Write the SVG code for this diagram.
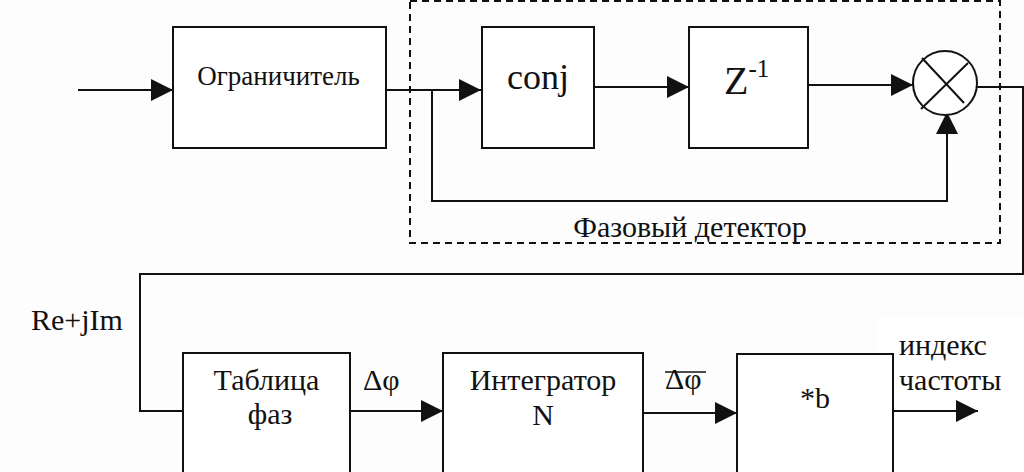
<svg xmlns="http://www.w3.org/2000/svg" width="1024" height="472" viewBox="0 0 1024 472">
<style>
.box{fill:#fff;stroke:#111;stroke-width:2}
.ln{fill:none;stroke:#111;stroke-width:2}
.dash{fill:none;stroke:#111;stroke-width:2;stroke-dasharray:7 5}
text{font-family:'Liberation Serif','DejaVu Serif',serif;font-size:30px;fill:#111}
.c{text-anchor:middle}
</style>
<defs>
<marker id="ar" markerUnits="userSpaceOnUse" markerWidth="22" markerHeight="22" refX="22" refY="11" orient="auto">
<path d="M0,0 L22,11 L0,22 Z" fill="#111"/>
</marker>
</defs>
<rect width="1024" height="472" fill="#fdfdfd"/>
<rect x="877" y="318" width="147" height="154" fill="#fff"/>

<g id="phase-detector-frame">
<rect x="410" y="1" width="590" height="242" class="dash"/>
<text x="690" y="237" class="c">Фазовый детектор</text>
</g>

<g id="connectors">
<line x1="78" y1="90" x2="173" y2="90" class="ln" marker-end="url(#ar)"/>
<line x1="386" y1="90" x2="481" y2="90" class="ln" marker-end="url(#ar)"/>
<polyline points="432,90 432,201 947,201 947,112" class="ln" marker-end="url(#ar)"/>
<line x1="594" y1="87" x2="689" y2="87" class="ln" marker-end="url(#ar)"/>
<line x1="808" y1="85" x2="913" y2="85" class="ln" marker-end="url(#ar)"/>
<polyline points="977,87 1023,87 1023,274 140,274 140,411 183,411" class="ln"/>
<line x1="350" y1="411" x2="443" y2="411" class="ln" marker-end="url(#ar)"/>
<line x1="643" y1="413" x2="737" y2="413" class="ln" marker-end="url(#ar)"/>
<line x1="893" y1="411" x2="978" y2="411" class="ln" marker-end="url(#ar)"/>
</g>

<g id="limiter">
<rect x="173" y="27" width="213" height="121" class="box"/>
<text x="278.5" y="85" class="c" style="font-size:27px">Ограничитель</text>
</g>

<g id="conj">
<rect x="482" y="27" width="112" height="121" class="box"/>
<text x="538" y="89" class="c" style="font-size:36px">conj</text>
</g>

<g id="delay">
<rect x="689" y="27" width="119" height="121" class="box"/>
<text x="724" y="94" style="font-size:40px">Z<tspan dy="-17" style="font-size:25px">-1</tspan></text>
</g>

<g id="multiplier">
<circle cx="945" cy="83" r="32" class="box"/>
<line x1="922" y1="58" x2="964" y2="103" class="ln"/>
<line x1="968" y1="63" x2="921" y2="109" class="ln"/>
</g>

<g id="phase-table">
<rect x="183" y="353" width="167" height="130" class="box"/>
<text x="266.5" y="390" class="c">Таблица</text>
<text x="270" y="424" class="c">фаз</text>
</g>

<g id="integrator">
<rect x="443" y="353" width="200" height="130" class="box"/>
<text x="543" y="390" class="c">Интегратор</text>
<text x="543" y="425" class="c">N</text>
</g>

<g id="scale">
<rect x="737" y="354" width="156" height="130" class="box"/>
<text x="815" y="408" class="c">*b</text>
</g>

<g id="labels">
<text x="31" y="330">Re+jIm</text>
<text x="363" y="390">Δφ</text>
<text x="665" y="389">Δφ</text>
<line x1="665" y1="372" x2="706" y2="372" stroke="#111" stroke-width="1.5"/>
<text x="899" y="355">индекс</text>
<text x="899" y="390">частоты</text>
</g>
</svg>
